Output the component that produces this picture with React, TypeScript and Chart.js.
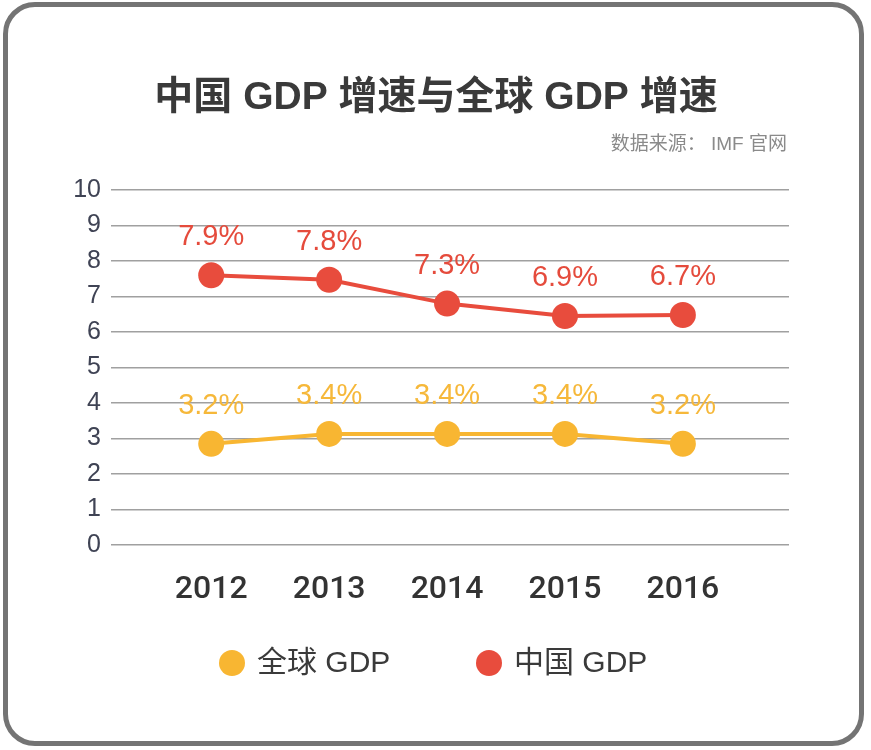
import React, { useEffect, useRef } from "react";
import { Chart, registerables } from "chart.js";

Chart.register(...registerables);

const years = ["2012", "2013", "2014", "2015", "2016"];
const globalValues = [2.85, 3.13, 3.13, 3.13, 2.85];
const chinaValues = [7.6, 7.47, 6.8, 6.45, 6.48];
const globalLabels = ["3.2%", "3.4%", "3.4%", "3.4%", "3.2%"];
const chinaLabels = ["7.9%", "7.8%", "7.3%", "6.9%", "6.7%"];
const seriesNames = ["全球 GDP", "中国 GDP"];
const titleText = "中国 GDP 增速与全球 GDP 增速";
const sourceText = "数据来源： IMF 官网";

const YELLOW = "#f8b632";
const RED = "#e84c3d";
const LATIN = "'Liberation Sans', 'Noto Sans CJK SC', sans-serif";

const decorPlugin = {
  id: "decor",
  afterDatasetsDraw(chart: any) {
    const ctx = chart.ctx;
    ctx.save();
    const labelSets = [globalLabels, chinaLabels];
    const labelColors = ["#f6b83a", "#e54b3c"];
    chart.data.datasets.forEach((ds: any, di: number) => {
      const meta = chart.getDatasetMeta(di);
      ctx.font = `29px ${LATIN}`;
      ctx.fillStyle = labelColors[di];
      ctx.textAlign = "center";
      ctx.textBaseline = "middle";
      meta.data.forEach((el: any, i: number) => {
        ctx.fillText(labelSets[di][i], el.x, el.y - 38);
      });
    });
    ctx.restore();
  },
  afterDraw(chart: any) {
    const ctx = chart.ctx;
    ctx.save();
    ctx.font = `bold 39px ${LATIN}`;
    ctx.fillStyle = "#3a3a3a";
    ctx.textAlign = "center";
    ctx.textBaseline = "middle";
    ctx.fillText(titleText, 436, 98);
    ctx.font = `19px ${LATIN}`;
    ctx.fillStyle = "#8a8a8a";
    ctx.textAlign = "right";
    ctx.fillText(sourceText, 787, 145);
    const legendX = [232, 489];
    chart.data.datasets.forEach((ds: any, di: number) => {
      const cx = legendX[di];
      const cy = 663;
      ctx.beginPath();
      ctx.arc(cx, cy, 13, 0, Math.PI * 2);
      ctx.fillStyle = ds.borderColor;
      ctx.fill();
      ctx.font = `30px ${LATIN}`;
      ctx.fillStyle = "#3a3a3a";
      ctx.textAlign = "left";
      ctx.textBaseline = "middle";
      ctx.fillText(ds.label, cx + 25, cy + 1);
    });
    ctx.restore();
  },
};

export default function App() {
  const ref = useRef<HTMLCanvasElement | null>(null);
  useEffect(() => {
    if (!ref.current) return;
    const chart = new Chart(ref.current, {
      type: "line",
      data: {
        datasets: [
          {
            label: seriesNames[0],
            data: globalValues.map((v, i) => ({ x: i, y: v })),
            borderColor: YELLOW,
            backgroundColor: YELLOW,
            borderWidth: 4,
            pointRadius: 13,
            pointHoverRadius: 13,
            pointBackgroundColor: YELLOW,
            pointBorderWidth: 0,
          },
          {
            label: seriesNames[1],
            data: chinaValues.map((v, i) => ({ x: i, y: v })),
            borderColor: RED,
            backgroundColor: RED,
            borderWidth: 4,
            pointRadius: 13,
            pointHoverRadius: 13,
            pointBackgroundColor: RED,
            pointBorderWidth: 0,
          },
        ],
      },
      options: {
        responsive: false,
        animation: false,
        devicePixelRatio: 1,
        layout: { padding: { left: 51, right: 82, top: 190, bottom: 125 } },
        plugins: {
          legend: { display: false },
          title: { display: false },
          tooltip: { enabled: false },
        },
        scales: {
          x: {
            type: "linear",
            min: -0.85,
            max: 4.9,
            afterBuildTicks: (scale: any) => {
              scale.ticks = years.map((_, i) => ({ value: i }));
            },
            afterFit: (scale: any) => {
              scale.height = 80;
            },
            grid: { display: false, drawTicks: false },
            border: { display: false },
            ticks: {
              padding: 26,
              color: "#333333",
              font: { family: "Roboto, 'Liberation Sans', sans-serif", size: 32, weight: "500" },
              callback: (v: any) => years[v] ?? "",
            },
          },
          y: {
            min: 0,
            max: 10,
            afterFit: (scale: any) => {
              scale.width = 60;
            },
            grid: { color: "#a0a0a0", lineWidth: 1.6, drawTicks: false },
            border: { display: false },
            ticks: {
              stepSize: 1,
              padding: 10,
              color: "#3f4354",
              font: { family: "'Liberation Sans', sans-serif", size: 25 },
            },
          },
        },
      },
      plugins: [decorPlugin],
    } as any);
    return () => chart.destroy();
  }, []);

  return (
    <div style={{ position: "absolute", left: 0, top: 0, width: 871, height: 750, background: "#ffffff" }}>
      <div
        style={{
          position: "absolute",
          left: 3,
          top: 2,
          width: 861,
          height: 744,
          boxSizing: "border-box",
          border: "5px solid #747474",
          borderRadius: 32,
        }}
      />
      <canvas ref={ref} width={871} height={750} style={{ position: "absolute", left: 0, top: 0 }} />
    </div>
  );
}
